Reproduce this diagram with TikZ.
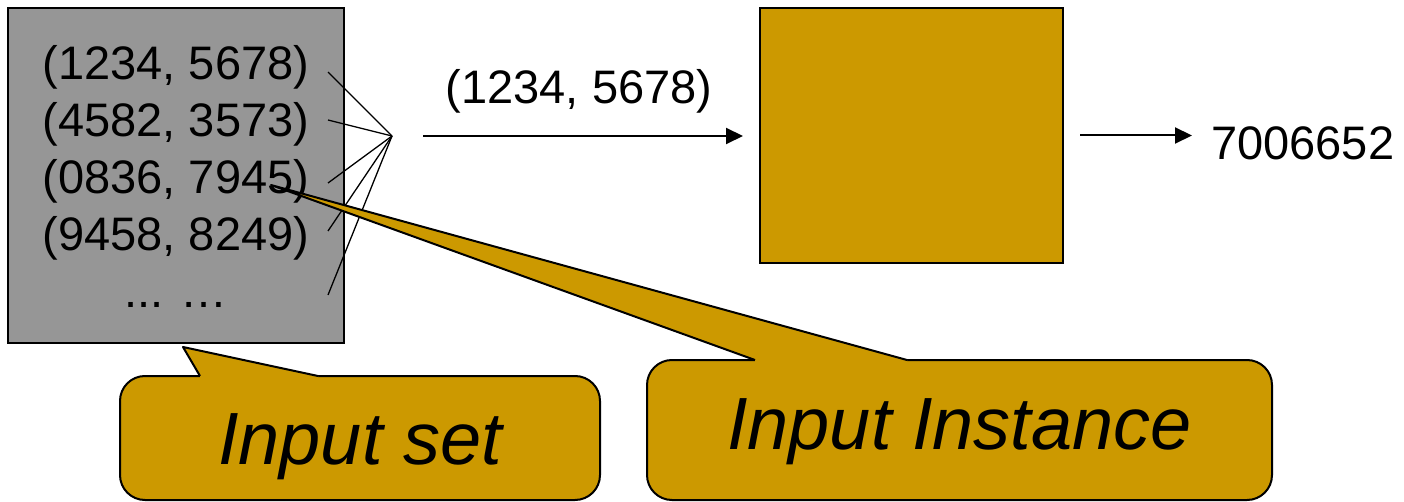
\documentclass[tikz,border=0pt]{standalone}
\usepackage{fontspec}
\setmainfont{Liberation Sans}
\usetikzlibrary{arrows.meta}
\definecolor{setgray}{HTML}{969696}
\definecolor{boxgold}{HTML}{CC9900}
\tikzset{
  txt/.style={inner sep=0pt,font=\fontsize{47}{56}\selectfont},
  box/.style={draw,line width=2pt,outer sep=0pt,inner sep=0pt,anchor=north west},
  arr/.style={line width=2pt,-{Triangle[length=17pt,width=16pt]}},
  callout/.style={draw,line width=2pt,fill=boxgold,rounded corners=25pt,inner sep=0pt,outer sep=0pt,
    font=\fontsize{74}{88}\selectfont\itshape,text height=53pt,text depth=0pt},
}
\begin{document}
\begin{tikzpicture}[x=1pt,y=-1pt]
  \useasboundingbox (0,0) rectangle (1404,502);
  % input set and its pairs
  \node[box,fill=setgray,minimum width=336pt,minimum height=335pt] (set) at (8,8) {};
  \foreach \t [count=\i] in {{(1234, 5678)},{(4582, 3573)},{(0836, 7945)},{(9458, 8249)}}
    \node[txt,anchor=base] (p\i) at (176,23+57*\i) {\t};
  \node[txt,anchor=base] (p5) at (176,308) {... …};
  \coordinate (hub) at (392,136);
  \foreach \y [count=\i] in {72,120,183,231,295} {
    \coordinate (f\i) at (328,\y);
    \draw[line width=1.3pt] (f\i) -- (hub);
  }
  % the function box
  \node[box,fill=boxgold,minimum width=303pt,minimum height=255pt] (func) at (760,8) {};
  \coordinate (in) at (423,136);
  \node[txt,anchor=base] (lab) at (579,104) {(1234, 5678)};
  \draw[arr,shorten >=17pt] (in) -- (in -| func.west);
  \node[txt,anchor=base west] (out) at (1211,160) {7006652};
  \draw[arr,shorten <=17pt,shorten >=19pt] (func.east) -- (func.east -| out.west);
  % callouts
  \node[callout,minimum width=480pt,minimum height=124pt] (cset) at (360,438) {Input set};
  \node[callout,minimum width=625pt,minimum height=140pt,text depth=15pt] (cinst) at (959.5,430) {Input Instance};
  \coordinate (s1) at (183,347); \coordinate (s2) at (200,376); \coordinate (s3) at (318,376);
  \fill[boxgold] (s1) -- (s2) -- ++(0,3) -| (s3) -- cycle;
  \draw[line width=2pt,line join=round] (s2) -- (s1) -- (s3);
  \coordinate (i1) at (271,185); \coordinate (i2) at (755,360); \coordinate (i3) at (907,360);
  \fill[boxgold] (i1) -- (i2) -- ++(0,3) -| (i3) -- cycle;
  \draw[line width=2pt,line join=round] (i2) -- (i1) -- (i3);
\end{tikzpicture}
\end{document}
